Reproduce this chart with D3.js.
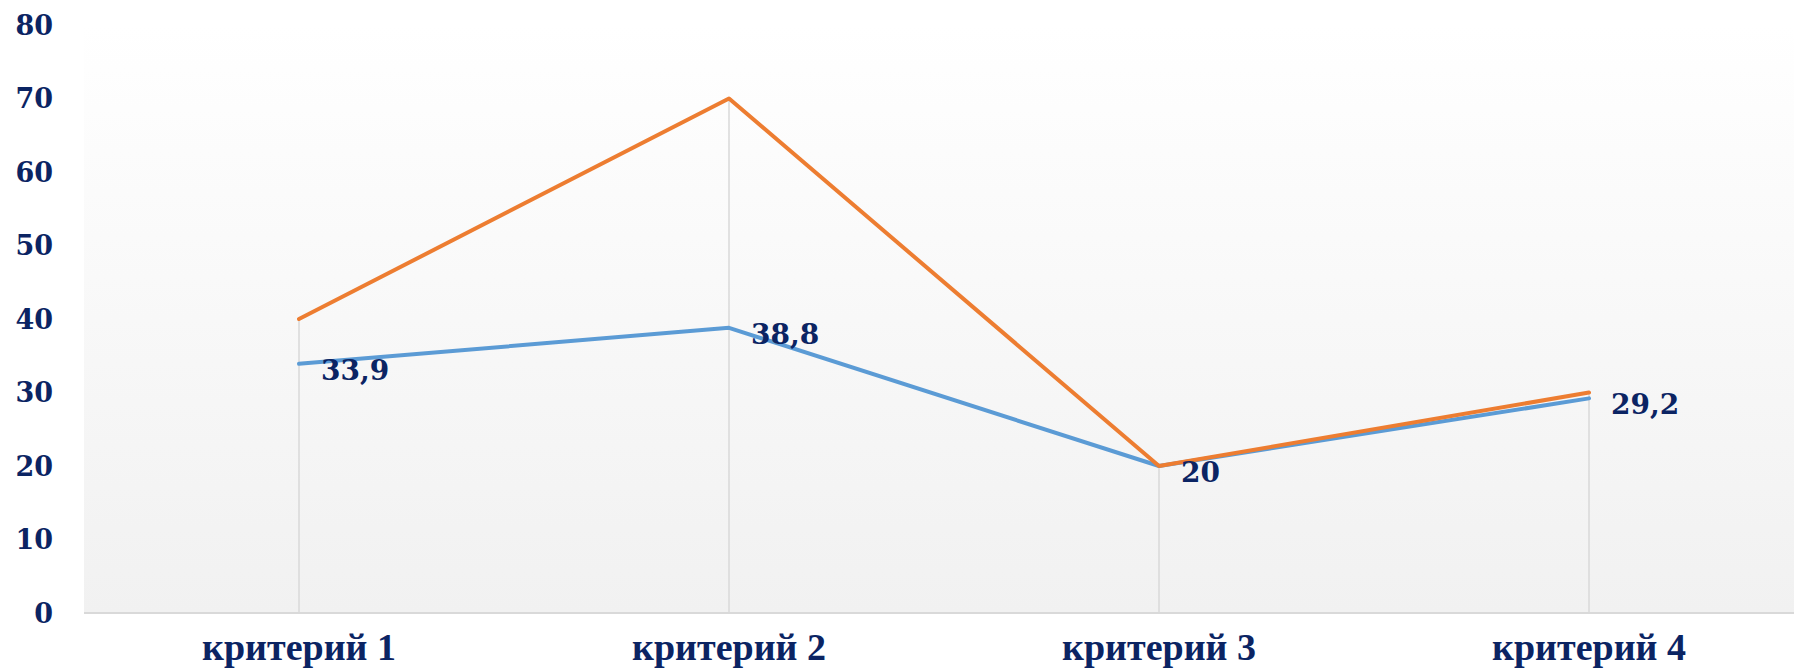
<!DOCTYPE html>
<html>
<head>
<meta charset="utf-8">
<script src="https://cdn.jsdelivr.net/npm/d3@7"></script>
<style>
  body { margin: 0; background: #fff; }
  svg { display: block; }
</style>
</head>
<body>
<svg id="chart" width="1794" height="668"></svg>
<script>
// chart data
const categories = ["критерий 1", "критерий 2", "критерий 3", "критерий 4"];
const seriesBlue = [33.9, 38.8, 20, 29.2];
const seriesOrange = [40, 70, 20, 30];
const blueLabels = ["33,9", "38,8", "20", "29,2"];
const yTicks = [0, 10, 20, 30, 40, 50, 60, 70, 80];

const svg = d3.select("#chart");
const plotLeft = 84, plotRight = 1804, plotTop = 25, plotBottom = 613;
const navy = "#0b2463";

let xScale = d3.scaleBand().domain(categories).range([plotLeft, plotRight]);
let xPos = d => xScale(d) + xScale.bandwidth() / 2;
let yScale = d3.scaleLinear().domain([0, 80]).range([plotBottom, plotTop]);

// plot area gradient
let grad = svg.append("defs").append("linearGradient")
  .attr("id", "bg").attr("x1", 0).attr("y1", 0).attr("x2", 0).attr("y2", 1);
grad.append("stop").attr("offset", "0%").attr("stop-color", "#ffffff");
grad.append("stop").attr("offset", "100%").attr("stop-color", "#f1f1f1");

svg.append("rect")
  .attr("x", plotLeft).attr("y", plotTop)
  .attr("width", plotRight - plotLeft).attr("height", plotBottom - plotTop)
  .attr("fill", "url(#bg)");

// drop lines from highest point down to the axis
svg.selectAll(".drop").data(categories).enter().append("line")
  .attr("class", "drop")
  .attr("x1", d => xPos(d)).attr("x2", d => xPos(d))
  .attr("y1", (d, i) => yScale(Math.max(seriesBlue[i], seriesOrange[i])))
  .attr("y2", plotBottom)
  .attr("stroke", "#d9d9d9").attr("stroke-width", 1.5);

// x axis line
svg.append("line")
  .attr("x1", plotLeft).attr("x2", plotRight)
  .attr("y1", plotBottom).attr("y2", plotBottom)
  .attr("stroke", "#d9d9d9").attr("stroke-width", 2);

// y tick labels
svg.selectAll(".ylab").data(yTicks).enter().append("text")
  .attr("class", "ylab")
  .attr("x", 53).attr("y", d => yScale(d))
  .attr("dy", "0.36em")
  .attr("text-anchor", "end")
  .attr("font-family", "DejaVu Serif, serif")
  .attr("font-weight", "bold")
  .attr("font-size", 27)
  .attr("fill", navy)
  .text(d => d);

// x labels
svg.selectAll(".xlab").data(categories).enter().append("text")
  .attr("class", "xlab")
  .attr("x", d => xPos(d)).attr("y", 660)
  .attr("text-anchor", "middle")
  .attr("font-family", "Liberation Serif, serif")
  .attr("font-weight", "bold")
  .attr("font-size", 38)
  .attr("fill", navy)
  .text(d => d);

// lines
let lineGen = d3.line()
  .x((d, i) => xPos(categories[i]))
  .y(d => yScale(d));

svg.append("path")
  .attr("d", lineGen(seriesBlue))
  .attr("fill", "none").attr("stroke", "#5b9bd5")
  .attr("stroke-width", 4).attr("stroke-linejoin", "round").attr("stroke-linecap", "round");

svg.append("path")
  .attr("d", lineGen(seriesOrange))
  .attr("fill", "none").attr("stroke", "#ed7d31")
  .attr("stroke-width", 4).attr("stroke-linejoin", "round").attr("stroke-linecap", "round");

// data labels for blue series
svg.selectAll(".dlab").data(seriesBlue).enter().append("text")
  .attr("class", "dlab")
  .attr("x", (d, i) => xPos(categories[i]) + 22)
  .attr("y", d => yScale(d) + 6)
  .attr("dy", "0.36em")
  .attr("font-family", "DejaVu Serif, serif")
  .attr("font-weight", "bold")
  .attr("font-size", 28)
  .attr("fill", navy)
  .text((d, i) => blueLabels[i]);
</script>
</body>
</html>
